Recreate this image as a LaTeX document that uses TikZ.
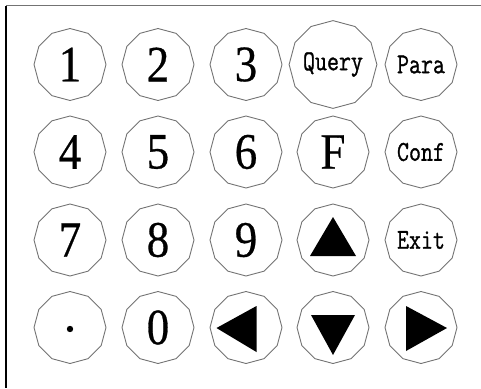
\documentclass[tikz,border=0pt]{standalone}
\usepackage{fontspec}
\setmainfont{Liberation Serif}
\newfontfamily\wfont{Latin Modern Mono}[FakeBold=1.2]
\newfontfamily\dfont{Liberation Serif}[FakeBold=0.6]
\usetikzlibrary{shapes.geometric}
\tikzset{
  keybtn/.style={draw=black!55, line width=0.9pt, shape=regular polygon,
    regular polygon sides=12, shape border rotate=15, minimum size=72pt,
    inner sep=0pt, font=\dfont\fontsize{51}{51}\selectfont},
  wordkey/.style={keybtn, font=\wfont\fontsize{24}{24}\selectfont},
  tri/.style={fill=black, draw=none},
}
\newcommand{\wlab}[1]{\scalebox{0.97}[1.2]{#1}}
\newcommand{\dlab}[1]{\scalebox{0.88}[1]{#1}}
\begin{document}
\begin{tikzpicture}[x=1pt,y=-1pt]
\useasboundingbox (0,0) rectangle (481,388);
\draw[black!55, line width=1pt] (6,5.5) -- (481,5.5);
\draw[black, line width=1.5pt] (6,5.5) -- (6,388);
% row 1
\node[keybtn] (k1) at (70,64.5) {\dlab{1}};
\node[keybtn] (k2) at (158,64.5) {\dlab{2}};
\node[keybtn] (k3) at (246,64.5) {\dlab{3}};
\node[wordkey] (kq) at (333,64.5) {\wlab{Query}};
\node[wordkey] (kp) at (421,64.5) {\wlab{Para}};
% row 2
\node[keybtn] (k4) at (70,152) {\dlab{4}};
\node[keybtn] (k5) at (158,152) {\dlab{5}};
\node[keybtn] (k6) at (246,152) {\dlab{6}};
\node[keybtn] (kf) at (333,152) {\dlab{F}};
\node[wordkey] (kc) at (421,152) {\wlab{Conf}};
% row 3
\node[keybtn] (k7) at (70,240) {\dlab{7}};
\node[keybtn] (k8) at (158,240) {\dlab{8}};
\node[keybtn] (k9) at (246,240) {\dlab{9}};
\node[keybtn] (kup) at (333,240) {};
\node[wordkey] (ke) at (421,240) {\wlab{Exit}};
% row 4
\node[keybtn] (kdot) at (70,327.5) {};
\node[keybtn] (k0) at (158,327.5) {\dlab{0}};
\node[keybtn] (kleft) at (246,327.5) {};
\node[keybtn] (kdown) at (333,327.5) {};
\node[keybtn] (kright) at (421,327.5) {};
% symbols
\fill (kdot.center) ++(0,1.5) circle (3.2pt);
\begin{scope}[shift={(kup.center)}]
  \fill[tri] (0,-23) -- (-23,16) -- (23,16) -- cycle;
\end{scope}
\begin{scope}[shift={(kdown.center)}]
  \fill[tri] (-22,-12.5) -- (22,-12.5) -- (0,27.5) -- cycle;
\end{scope}
\begin{scope}[shift={(kleft.center)}]
  \fill[tri] (-29.5,0.5) -- (10.5,-21.5) -- (10.5,24.5) -- cycle;
\end{scope}
\begin{scope}[shift={(kright.center)}]
  \fill[tri] (-15,-21.5) -- (26,0.5) -- (-15,23.5) -- cycle;
\end{scope}
\end{tikzpicture}
\end{document}
